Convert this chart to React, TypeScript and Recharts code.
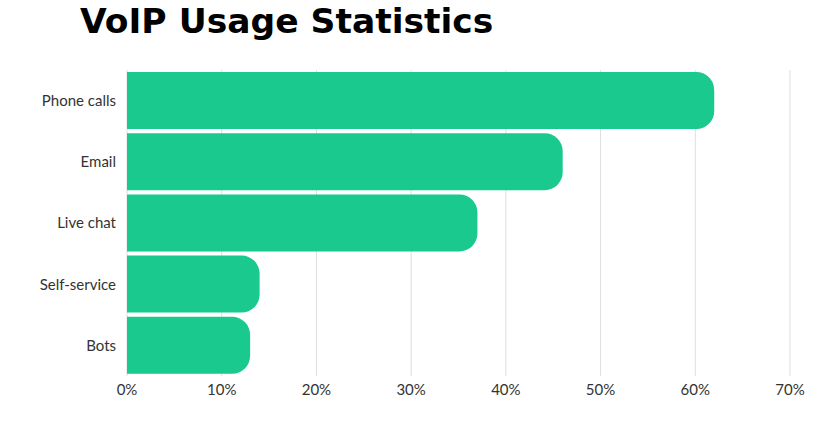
import React from "react";
import { BarChart, Bar, XAxis, YAxis, CartesianGrid } from "recharts";

const categories = ["Phone calls", "Email", "Live chat", "Self-service", "Bots"];
const usageValues = [62, 46, 37, 14, 13];
const xTicks = [0, 10, 20, 30, 40, 50, 60, 70];

const data = categories.map((name, i) => ({ name, value: usageValues[i] }));

export default function App() {
  return (
    <div style={{ position: "absolute", left: 0, top: 0, width: 826, height: 426, background: "#fff" }}>
      <div
        style={{
          position: "absolute",
          left: 80,
          top: 1,
          fontFamily: "'DejaVu Sans', sans-serif",
          fontWeight: 700,
          fontSize: 34.5,
          lineHeight: "normal",
          color: "#000",
          whiteSpace: "nowrap",
        }}
      >
        VoIP Usage Statistics
      </div>
      <div style={{ position: "absolute", left: 0, top: 0 }}>
        <BarChart
          width={826}
          height={426}
          data={data}
          layout="vertical"
          margin={{ top: 70, right: 36, bottom: 20, left: 0 }}
          barCategoryGap={2}
        >
          <CartesianGrid horizontal={false} stroke="#dedede" strokeWidth={1} />
          <XAxis
            type="number"
            domain={[0, 70]}
            ticks={xTicks}
            tickFormatter={(v: number) => `${v}%`}
            axisLine={false}
            tickLine={false}
            tickSize={0}
            tickMargin={8}
            height={30}
            interval={0}
            tick={{ fill: "#333", fontSize: 15, fontFamily: "Lato, sans-serif" }}
          />
          <YAxis
            type="category"
            dataKey="name"
            width={127}
            axisLine={false}
            tickLine={false}
            tickSize={0}
            tickMargin={11}
            interval={0}
            tick={{ fill: "#333", fontSize: 15, fontFamily: "Lato, sans-serif" }}
          />
          <Bar dataKey="value" fill="#19C98D" radius={[0, 18, 18, 0]} isAnimationActive={false} />
        </BarChart>
      </div>
    </div>
  );
}
